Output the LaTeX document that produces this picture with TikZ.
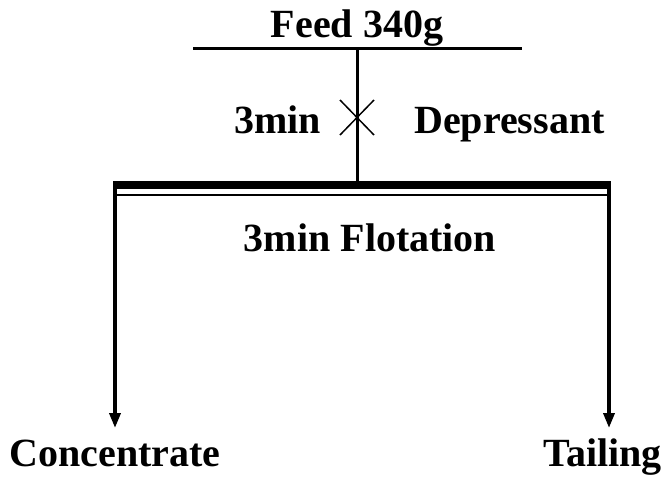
\documentclass[tikz,border=0pt]{standalone}
\usepackage{fontspec}
\setmainfont{Liberation Serif}
\usetikzlibrary{arrows.meta}
\begin{document}
\begin{tikzpicture}[x=1pt,y=-1pt,
  lbl/.style={font=\fontsize{40}{44}\selectfont\bfseries, inner sep=0pt, anchor=base},
  heavy/.style={line width=3pt},
  flowarrow/.style={line width=3.5pt, -{Triangle[length=15pt,width=11pt]}}]
\useasboundingbox (0,0) rectangle (670,485);
% texts
\node[lbl] (feed) at (357,37) {Feed 340g};
\node[lbl] (tmin) at (277.5,133) {3min};
\node[lbl] (dep) at (509.5,133) {Depressant};
\node[lbl] (flot) at (370,251) {3min Flotation};
\node[lbl] (conc) at (115,466) {Concentrate};
\node[lbl] (tail) at (602.5,466) {Tailing};
% coordinates
\coordinate (fl) at (193,48);
\coordinate (fr) at (522,48);
\coordinate (fm) at (357,48);
\coordinate (bm) at (357,183);
\coordinate (bl) at (113,185);
\coordinate (br) at (611,185);
\coordinate (tl) at (115,195);
\coordinate (tr) at (609,195);
\coordinate (al) at (115,183);
\coordinate (ar) at (609,183);
\coordinate (ael) at (115,428);
\coordinate (aer) at (609,428);
\coordinate (x1) at (340,100);
\coordinate (x2) at (374,135);
\coordinate (x3) at (340,135);
\coordinate (x4) at (374,100);
% feed line
\draw[heavy] (fl) -- (fr);
\draw[heavy] (fm) -- (bm);
% valve cross
\draw[line width=1.5pt] (x1) -- (x2);
\draw[line width=1.5pt] (x3) -- (x4);
% flotation bar
\draw[line width=8pt] (bl) -- (br);
\draw[line width=1.6pt] (tl) -- (tr);
% outlets
\draw[flowarrow] (al) -- (ael);
\draw[flowarrow] (ar) -- (aer);
\end{tikzpicture}
\end{document}
